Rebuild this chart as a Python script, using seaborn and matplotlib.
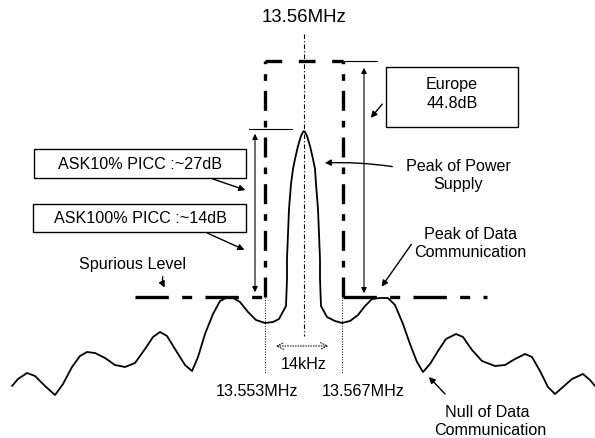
import matplotlib.pyplot as plt
import seaborn as sns
import pandas as pd

# spectrum outline (pixel coords, y grows downward)
curve_x = [12, 18, 27, 35, 45, 55, 63, 72, 80, 87, 95, 105, 115, 125, 135, 145, 153, 160, 167, 175,
           185, 192, 198, 205, 213, 220, 226, 233, 240, 248, 256, 265, 273, 279, 286,
           287, 287, 288, 289, 291, 293, 295, 298, 301, 303, 304, 305, 307, 310, 313, 315, 316, 318,
           319, 320, 320, 321,
           327, 335, 342, 350, 358, 365, 372, 380, 388, 395, 403, 410, 417, 423, 430, 438, 446,
           456, 463, 472, 482, 495, 505, 515, 525, 532, 540, 548, 555, 563, 572, 583, 590, 595]
curve_y = [387, 380, 374, 377, 387, 396, 385, 368, 357, 353, 354, 359, 366, 368, 364, 350, 338, 333, 337, 350,
           366, 372, 358, 335, 315, 302, 299, 299, 303, 313, 321, 324, 323, 320, 307,
           280, 260, 235, 210, 185, 170, 160, 147, 137, 133, 132, 133, 137, 147, 160, 170, 185, 210,
           235, 260, 280, 307,
           318, 322, 324, 322, 316, 307, 300, 299, 299, 306, 325, 345, 363, 373, 365, 352, 340,
           335, 338, 351, 362, 367, 366, 360, 355, 358, 372, 388, 395, 388, 380, 375, 381, 387]

f_left, f_center, f_right = 265, 304, 342
spurious_y, mask_top, peak_y = 298, 62, 130

sns.set_theme(style="white")
plt.rcParams['font.family'] = ['Liberation Sans', 'DejaVu Sans']
plt.rcParams['text.color'] = 'black'

fig = plt.figure(figsize=(5.95, 4.39), dpi=100)
ax = fig.add_axes([0, 0, 1, 1])
ax.set_xlim(0, 595)
ax.set_ylim(439, 0)
ax.axis('off')

df = pd.DataFrame({'x': curve_x, 'y': curve_y})
sns.lineplot(data=df, x='x', y='y', sort=False, estimator=None, color='black', lw=1.3, ax=ax)

# Europe mask (thick dash-dot)
heavy = dict(color='black', lw=2.4, dashes=(6, 3, 2, 3))
ax.plot([f_left, f_left], [spurious_y, mask_top], **heavy)
ax.plot([f_right + 1, f_right + 1], [spurious_y, mask_top], **heavy)
ax.plot([f_left, f_right + 1], [mask_top, mask_top], color='black', lw=2.4, dashes=(5, 5))
ax.plot([135, f_left], [spurious_y, spurious_y], color='black', lw=2.4, dashes=(10, 4, 3, 4))
ax.plot([f_right + 1, 487], [spurious_y, spurious_y], color='black', lw=2.4, dashes=(10, 4, 3, 4))

# centre line and the two side frequencies
ax.plot([f_center, f_center], [35, 337], color='black', lw=0.8, dashes=(4, 2, 1, 2))
ax.plot([f_left, f_left], [spurious_y, 375], color='black', lw=0.7, ls=':')
ax.plot([f_right, f_right], [spurious_y, 375], color='black', lw=0.7, ls=':')
ax.annotate('', xy=(f_left + 8, 347), xytext=(f_right - 11, 347),
            arrowprops=dict(arrowstyle='<->', color='black', lw=0.7, ls=':'))

# level arrows
ax.plot([249, 292], [peak_y, peak_y], color='black', lw=0.8)
ax.annotate('', xy=(255, peak_y + 2), xytext=(255, spurious_y - 2),
            arrowprops=dict(arrowstyle='<|-|>', color='black', lw=0.8, mutation_scale=8))
ax.plot([f_right + 1, 377], [mask_top, mask_top], color='black', lw=0.8)
ax.annotate('', xy=(364, mask_top + 4), xytext=(364, spurious_y - 1),
            arrowprops=dict(arrowstyle='<|-|>', color='black', lw=0.8, mutation_scale=8))

# boxes
for x0, y0, w, h in [(34, 150, 212, 29), (33, 205, 213, 28), (386, 68, 132, 60)]:
    ax.add_patch(plt.Rectangle((x0, y0), w, h, fill=False, ec='black', lw=1.0))

fs = 11.6
ax.text(140, 165, 'ASK10% PICC :~27dB', ha='center', va='center', fontsize=fs)
ax.text(140, 219, 'ASK100% PICC :~14dB', ha='center', va='center', fontsize=fs)
ax.text(452, 84, 'Europe', ha='center', va='center', fontsize=fs)
ax.text(452, 104, '44.8dB', ha='center', va='center', fontsize=fs)
ax.text(304, 17, '13.56MHz', ha='center', va='center', fontsize=13.4)
ax.text(133, 265, 'Spurious Level', ha='center', va='center', fontsize=fs)
ax.text(458, 167, 'Peak of Power', ha='center', va='center', fontsize=fs)
ax.text(458, 185, 'Supply', ha='center', va='center', fontsize=fs)
ax.text(470, 235, 'Peak of Data', ha='center', va='center', fontsize=fs)
ax.text(470, 253, 'Communication', ha='center', va='center', fontsize=fs)
ax.text(487, 413, 'Null of Data', ha='center', va='center', fontsize=fs)
ax.text(490, 431, 'Communication', ha='center', va='center', fontsize=fs)
ax.text(304, 365, '14kHz', ha='center', va='center', fontsize=fs)
ax.text(257, 392, '13.553MHz', ha='center', va='center', fontsize=fs)
ax.text(363, 392, '13.567MHz', ha='center', va='center', fontsize=fs)

# pointer arrows
arr = dict(arrowstyle='-|>', color='black', lw=1.0, mutation_scale=9)
ax.annotate('', xy=(248, 192), xytext=(210, 179), arrowprops=arr)
ax.annotate('', xy=(247, 252), xytext=(205, 233), arrowprops=arr)
ax.annotate('', xy=(369, 121), xytext=(384, 103), arrowprops=arr)
ax.annotate('', xy=(322, 164), xytext=(395, 168), arrowprops=dict(arr, connectionstyle='arc3,rad=0.05'))
ax.annotate('', xy=(166, 291), xytext=(163, 275), arrowprops=dict(arr, connectionstyle='arc3,rad=0.2'))
ax.annotate('', xy=(380, 290), xytext=(413, 243), arrowprops=arr)
ax.annotate('', xy=(427, 376), xytext=(447, 397), arrowprops=arr)

plt.savefig('out.png', dpi=100)
